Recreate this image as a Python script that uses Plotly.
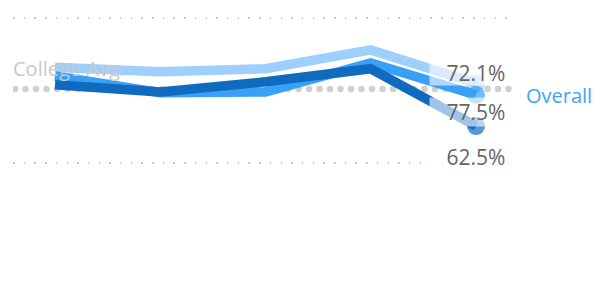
import numpy as np
import plotly.graph_objects as go

categories = ["Term 1", "Term 2", "Term 3", "Term 4", "Term 5"]
series_light = [73.2, 72.6, 73.0, 75.6, 71.0]
series_medium = [72.0, 69.7, 69.8, 73.8, 69.4]
series_dark = [70.8, 69.8, 71.2, 73.0, 65.1]
college_avg = 70.2
grid_vals = [60, 80]
label_texts = ["72.1%", "77.5%", "62.5%"]

C_LIGHT = "#9ECFFF"
C_MED = "#3A9FF7"
C_DARK = "#106BC0"
FONT = "Open Sans, Noto Sans, sans-serif"

xs = list(range(len(categories)))
fig = go.Figure()

# College average dotted line (round dots)
px_per_unit = 105.25
dot_x = np.arange(-40 / px_per_unit, 4.37, 10.5 / px_per_unit)
fig.add_trace(go.Scatter(x=dot_x, y=[college_avg] * len(dot_x), mode="markers",
                         marker=dict(size=6.5, color="#CFCFCF"), hoverinfo="skip",
                         showlegend=False))

for vals, col in [(series_light, C_LIGHT), (series_medium, C_MED), (series_dark, C_DARK)]:
    fig.add_trace(go.Scatter(
        x=xs, y=vals, mode="lines+markers",
        line=dict(color=col, width=9.5),
        marker=dict(size=[0, 0, 0, 0, 18], color=col, line=dict(width=0)),
        text=categories, showlegend=False))

bg = "rgba(255,255,255,0.6)"
lab_font = dict(family=FONT, size=21, color="#666666")
fig.add_annotation(x=xs[-1], y=series_light[-1], text=label_texts[0], showarrow=False,
                   yshift=10, font=lab_font, bgcolor=bg, width=92, height=24, borderpad=0)
fig.add_annotation(x=xs[-1], y=series_medium[-1], text=label_texts[1], showarrow=False,
                   yshift=-17, font=lab_font, bgcolor=bg, width=92, height=28, borderpad=0)
fig.add_annotation(x=xs[-1], y=series_dark[-1], text=label_texts[2], showarrow=False,
                   yshift=-31, font=lab_font, bgcolor="rgba(255,255,255,0.85)",
                   width=92, height=28, borderpad=0)

fig.add_annotation(xref="paper", x=0, xanchor="left", xshift=-2, y=college_avg, yshift=21,
                   text="College Avg.", showarrow=False,
                   font=dict(family=FONT, size=20, color="#C8C8C8"))
fig.add_annotation(xref="paper", x=1, xanchor="left", xshift=9, y=college_avg, yshift=-6,
                   text="Overall", showarrow=False,
                   font=dict(family=FONT, size=20, color="#3FA3F8"))

fig.update_xaxes(range=[-42 / px_per_unit, 460 / px_per_unit], showgrid=False,
                 zeroline=False, showticklabels=False, ticks="")
fig.update_yaxes(range=[40.41, 81.38], tickvals=grid_vals, showticklabels=False,
                 showgrid=True, gridcolor="#C8C8C8", gridwidth=1.5,
                 griddash="1.5px,9.2px", zeroline=False, ticks="")
fig.update_layout(width=595, height=297, margin=dict(l=5, r=88, t=0, b=0),
                  plot_bgcolor="white", paper_bgcolor="white", showlegend=False)
fig.write_html("out.html")
